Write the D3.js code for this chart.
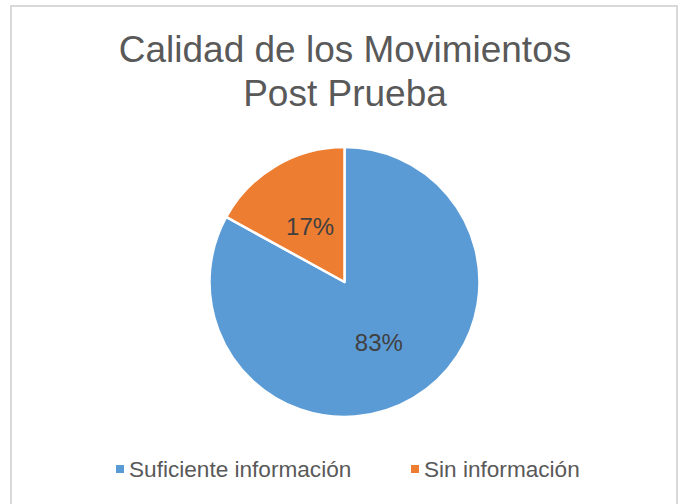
<!DOCTYPE html>
<html>
<head>
<meta charset="utf-8">
<script src="https://cdn.jsdelivr.net/npm/d3@7"></script>
<style>
  html, body { margin: 0; padding: 0; background: #fff; }
  svg { display: block; font-family: "Liberation Sans", Arial, sans-serif; }
</style>
</head>
<body>
<svg id="chart" width="684" height="504"></svg>
<script>
// Chart data
const titleLines = ["Calidad de los Movimientos", "Post Prueba"];
const categories = ["Suficiente información", "Sin información"];
const values = [83, 17];
const colors = ["#5b9bd5", "#ed7d31"];

const svg = d3.select("#chart");

// Outer frame (bottom edge falls outside the picture)
svg.append("rect")
    .attr("x", 11)
    .attr("y", 6)
    .attr("width", 666)
    .attr("height", 520)
    .attr("fill", "#fff")
    .attr("stroke", "#d9d9d9")
    .attr("stroke-width", 2);

// Title
svg.append("g").selectAll("text")
    .data(titleLines)
    .join("text")
    .attr("x", 345)
    .attr("y", (d, i) => 62 + i * 44)
    .attr("text-anchor", "middle")
    .attr("font-size", 37)
    .attr("fill", "#595959")
    .text(d => d);

// Pie
const cx = 344.5, cy = 282, radius = 135;
const pie = d3.pie().sort(null).value(d => d.value);
const arc = d3.arc().innerRadius(0).outerRadius(radius);
const data = categories.map((c, i) => ({ name: c, value: values[i], color: colors[i] }));
const total = d3.sum(values);

const g = svg.append("g").attr("transform", `translate(${cx},${cy})`);
const slices = pie(data);

g.selectAll("path")
    .data(slices)
    .join("path")
    .attr("d", arc)
    .attr("fill", d => d.data.color)
    .attr("stroke", "#fff")
    .attr("stroke-width", 2.5)
    .attr("stroke-linejoin", "round");

g.selectAll("text")
    .data(slices)
    .join("text")
    .attr("transform", d => `translate(${arc.centroid(d)})`)
    .attr("dy", "0.45em")
    .attr("text-anchor", "middle")
    .attr("font-size", 24)
    .attr("fill", "#404040")
    .text(d => Math.round(d.data.value / total * 100) + "%");

// Legend
const legendX = [116, 411];
const legend = svg.append("g").selectAll("g")
    .data(data)
    .join("g")
    .attr("transform", (d, i) => `translate(${legendX[i]},477)`);

legend.append("rect")
    .attr("x", 0)
    .attr("y", -12)
    .attr("width", 8)
    .attr("height", 8)
    .attr("fill", d => d.color);

legend.append("text")
    .attr("x", 13)
    .attr("y", 0)
    .attr("font-size", 22.6)
    .attr("fill", "#595959")
    .text(d => d.name);
</script>
</body>
</html>
